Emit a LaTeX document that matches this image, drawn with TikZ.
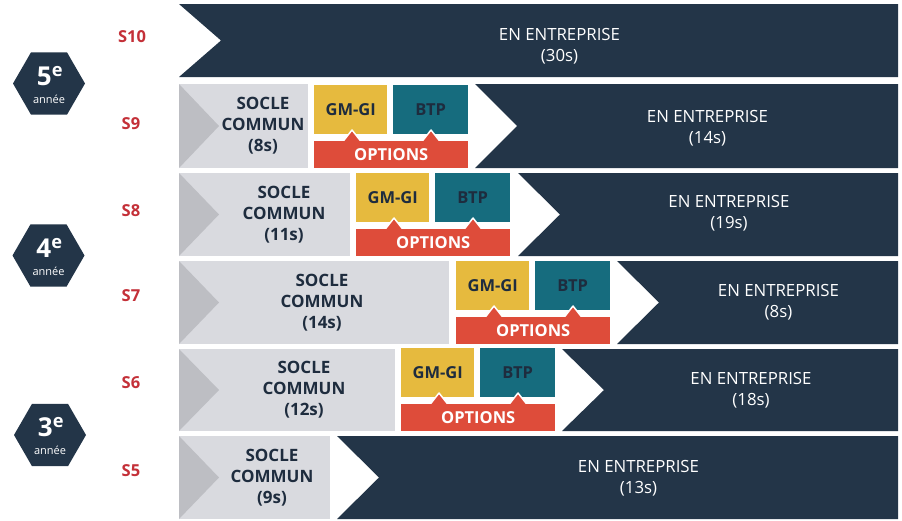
\documentclass[tikz,border=0pt]{standalone}
\usepackage{fontspec}
\setmainfont{Open Sans}
\usetikzlibrary{shapes.geometric}
\definecolor{navy}{RGB}{35,53,72}
\definecolor{soclegray}{RGB}{217,218,223}
\definecolor{trigray}{RGB}{189,190,195}
\definecolor{gmyellow}{RGB}{230,186,62}
\definecolor{btpteal}{RGB}{22,108,126}
\definecolor{optred}{RGB}{222,76,58}
\definecolor{labelred}{RGB}{196,48,56}
\definecolor{inktext}{RGB}{30,44,62}
\tikzset{
  band/.style={fill=navy},
  bandtext/.style={text=white, align=center, inner sep=0, font=\fontsize{16.8}{21}\selectfont},
  socletext/.style={text=inktext, align=center, inner sep=0, font=\fontsize{17}{21}\selectfont\bfseries},
  optbox/.style={anchor=north west, inner sep=0, minimum height=49, text=inktext, font=\fontsize{16.5}{16.5}\selectfont\bfseries},
  optbar/.style={anchor=south west, inner sep=0, minimum width=154, minimum height=27, fill=optred, text=white, font=\fontsize{16.5}{16.5}\selectfont\bfseries},
  bump/.style={fill=optred, draw=white, line width=1.5pt, line join=round},
  semlabel/.style={text=labelred, inner sep=0, font=\fontsize{16.5}{16.5}\selectfont\bfseries},
  yearhex/.style={regular polygon, regular polygon sides=6, minimum size=72, inner sep=0, fill=navy},
  yearnum/.style={text=white, inner sep=0, font=\fontsize{26}{26}\selectfont\bfseries},
  yeartext/.style={text=white, inner sep=0, font=\fontsize{11}{11}\selectfont},
}
% name, top, bottom, right end, text x, weeks
\newcommand{\soclerow}[6]{
  \fill[soclegray] (179,#2) rectangle (#4,#3);
  \fill[trigray] (179,#2) -- (219,{(#2+#3)/2}) -- (179,#3) -- cycle;
  \node[socletext] (#1) at (#5,{(#2+#3)/2}) {SOCLE\\COMMUN\\(#6)};
}
% name, top, bottom, left end, weeks, text y
\newcommand{\entrow}[6]{
  \fill[band] (#4,#2) -- (898,#2) -- (898,#3) -- (#4,#3) -- ({#4+42},{(#2+#3)/2}) -- cycle;
  \node[bandtext] (#1) at ({(#4+940)/2},#6) {EN ENTREPRISE\\(#5)};
}
% name, top, bottom, left end
\newcommand{\optrow}[4]{
  \node[optbox, fill=gmyellow, minimum width=73] (#1gm) at (#4,#2) {GM-GI};
  \node[optbox, fill=btpteal, minimum width=75] (#1btp) at ({#4+79},#2) {BTP};
  \filldraw[bump] ({#4+27},{#3-24}) -- ({#4+38},{#3-38}) -- ({#4+49},{#3-24}) -- cycle;
  \filldraw[bump] ({#4+106},{#3-24}) -- ({#4+117},{#3-38}) -- ({#4+128},{#3-24}) -- cycle;
  \node[optbar] (#1opt) at (#4,#3) {OPTIONS};
}

\begin{document}
\begin{tikzpicture}[x=1pt,y=-1pt]
  \useasboundingbox[fill=white] (0,0) rectangle (902,520);

  \node[yearhex] (h5) at (49,83.5) {};
  \node[yearnum] (h5n) at (50,76) {5\textsuperscript{e}};
  \node[yeartext] (h5t) at (49,99) {année};
  \node[yearhex] (h4) at (48.5,255.5) {};
  \node[yearnum] (h4n) at (49.5,248) {4\textsuperscript{e}};
  \node[yeartext] (h4t) at (48.5,271) {année};
  \node[yearhex] (h3) at (50,435) {};
  \node[yearnum] (h3n) at (51,427.5) {3\textsuperscript{e}};
  \node[yeartext] (h3t) at (50,450.5) {année};

  \node[semlabel] (s10) at (132,37) {S10};
  \node[semlabel] (s9) at (131,124) {S9};
  \node[semlabel] (s8) at (131,211) {S8};
  \node[semlabel] (s7) at (131,296) {S7};
  \node[semlabel] (s6) at (131,383) {S6};
  \node[semlabel] (s5) at (131,471) {S5};

  \entrow{e10}{4}{77}{179}{30s}{46}

  \soclerow{c9}{84}{168}{308}{263}{8s}
  \optrow{o9}{85}{168}{314}
  \entrow{e9}{84}{168}{475}{14s}{128}

  \soclerow{c8}{173}{256}{350}{284}{11s}
  \optrow{o8}{173}{256}{356}
  \entrow{e8}{173}{256}{518}{19s}{213}

  \soclerow{c7}{261}{344}{449}{322}{14s}
  \optrow{o7}{261}{344}{456}
  \entrow{e7}{261}{344}{617}{8s}{302.5}

  \soclerow{c6}{349}{431}{395}{304}{12s}
  \optrow{o6}{348}{431}{401}
  \entrow{e6}{349}{431}{562}{18s}{390}

  \soclerow{c5}{436}{519}{330}{272}{9s}
  \entrow{e5}{436}{519}{337}{13s}{478}
\end{tikzpicture}
\end{document}
